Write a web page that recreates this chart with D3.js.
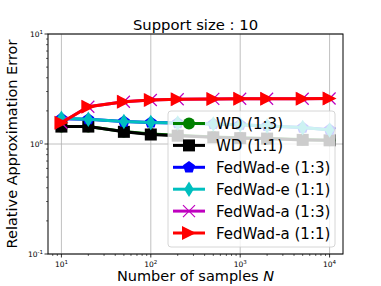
<!DOCTYPE html>
<html>
<head>
<meta charset="utf-8">
<script src="https://cdn.jsdelivr.net/npm/d3@7"></script>
<style>
  body { margin: 0; background: #fff; }
  text { font-family: "DejaVu Sans", sans-serif; }
</style>
</head>
<body>
<div id="chart"></div>
<script>
// values
const samples = [10, 20, 50, 100, 200, 500, 1000, 2000, 5000, 10000]
const wd13 = [1.44, 1.44, 1.30, 1.23, 1.20, 1.16, 1.14, 1.12, 1.10, 1.08]
const wd11 = [1.44, 1.44, 1.29, 1.22, 1.19, 1.15, 1.13, 1.12, 1.09, 1.08]
const fedE13 = [1.70, 1.68, 1.60, 1.57, 1.55, 1.52, 1.50, 1.46, 1.41, 1.35]
const fedE11 = [1.71, 1.68, 1.60, 1.57, 1.55, 1.52, 1.50, 1.46, 1.41, 1.34]
const fedA13 = [1.56, 2.18, 2.42, 2.51, 2.55, 2.57, 2.58, 2.58, 2.58, 2.59]
const fedA11 = [1.56, 2.18, 2.42, 2.51, 2.55, 2.57, 2.58, 2.58, 2.58, 2.59]
const seriesNames = ['WD (1:3)', 'WD (1:1)', 'FedWad-e (1:3)', 'FedWad-e (1:1)', 'FedWad-a (1:3)', 'FedWad-a (1:1)']
const xTicks = [10, 100, 1000, 10000]
const yTicks = [0.1, 1, 10]

const series = [
  { name: seriesNames[0], values: wd13, color: '#008000', marker: 'circle' },
  { name: seriesNames[1], values: wd11, color: '#000000', marker: 'square' },
  { name: seriesNames[2], values: fedE13, color: '#0000ff', marker: 'pentagon' },
  { name: seriesNames[3], values: fedE11, color: '#00bfbf', marker: 'diamond' },
  { name: seriesNames[4], values: fedA13, color: '#bf00bf', marker: 'x' },
  { name: seriesNames[5], values: fedA11, color: '#ff0000', marker: 'triangle' }
]

const width = 381, height = 286
const margin = { top: 34, right: 38, bottom: 32, left: 48 }
const x = d3.scaleLog().domain([Math.pow(10, 0.85), Math.pow(10, 4.15)]).range([margin.left, width - margin.right])
const y = d3.scaleLog().domain([0.1, 10]).range([height - margin.bottom, margin.top])

const svg = d3.select('#chart').append('svg').attr('width', width).attr('height', height)

// grid
const grid = svg.append('g')
grid.selectAll('.gx').data(xTicks).enter().append('line')
  .attr('x1', d => x(d)).attr('x2', d => x(d))
  .attr('y1', y.range()[0]).attr('y2', y.range()[1])
  .attr('stroke', '#b0b0b0').attr('stroke-width', 0.8)
grid.selectAll('.gy').data(yTicks).enter().append('line')
  .attr('y1', d => y(d)).attr('y2', d => y(d))
  .attr('x1', x.range()[0]).attr('x2', x.range()[1])
  .attr('stroke', '#b0b0b0').attr('stroke-width', 0.8)

function markerPath(type, s) {
  const h = s / 2
  if (type === 'square') return `M${-h},${-h}H${h}V${h}H${-h}Z`
  if (type === 'diamond') return `M0,${-h * 1.3}L${h * 0.8},0L0,${h * 1.3}L${-h * 0.8},0Z`
  if (type === 'triangle') return `M${-h},${-h}L${h},0L${-h},${h}Z`
  if (type === 'x') return `M${-h},${-h}L${h},${h}M${-h},${h}L${h},${-h}`
  if (type === 'pentagon') {
    const pts = d3.range(5).map(i => {
      const a = -Math.PI / 2 + i * 2 * Math.PI / 5
      return [Math.cos(a) * h * 1.05, Math.sin(a) * h * 1.05]
    })
    return 'M' + pts.join('L') + 'Z'
  }
  return null
}

function drawMarker(g, type, color, cx, cy) {
  if (type === 'circle') {
    g.append('circle').attr('cx', cx).attr('cy', cy).attr('r', 6).attr('fill', color)
  } else if (type === 'x') {
    g.append('path').attr('d', markerPath(type, 12)).attr('transform', `translate(${cx},${cy})`)
      .attr('stroke', color).attr('stroke-width', 1.2).attr('fill', 'none')
  } else {
    const s = type === 'triangle' ? 14 : 12
    g.append('path').attr('d', markerPath(type, s)).attr('transform', `translate(${cx},${cy})`)
      .attr('fill', color)
  }
}

const line = d3.line().x((d, i) => x(samples[i])).y(d => y(d))
const plot = svg.append('g')
for (const s of series) {
  const g = plot.append('g')
  g.append('path').datum(s.values).attr('d', line)
    .attr('fill', 'none').attr('stroke', s.color).attr('stroke-width', 3)
  s.values.forEach((v, i) => drawMarker(g, s.marker, s.color, x(samples[i]), y(v)))
}

// axes frame
svg.append('rect')
  .attr('x', margin.left).attr('y', margin.top)
  .attr('width', width - margin.left - margin.right)
  .attr('height', height - margin.top - margin.bottom)
  .attr('fill', 'none').attr('stroke', '#000').attr('stroke-width', 1)

// ticks
const minorX = []
for (let k = 0; k <= 4; k++) for (let m = 2; m <= 9; m++) {
  const v = m * Math.pow(10, k)
  if (v > x.domain()[0] && v < x.domain()[1]) minorX.push(v)
}
const minorY = []
for (let k = -1; k <= 0; k++) for (let m = 2; m <= 9; m++) minorY.push(m * Math.pow(10, k))

const yb = y.range()[0]
svg.selectAll('.mx').data(minorX).enter().append('line')
  .attr('x1', d => x(d)).attr('x2', d => x(d)).attr('y1', yb).attr('y2', yb + 2)
  .attr('stroke', '#000').attr('stroke-width', 0.6)
svg.selectAll('.Mx').data(xTicks).enter().append('line')
  .attr('x1', d => x(d)).attr('x2', d => x(d)).attr('y1', yb).attr('y2', yb + 3.5)
  .attr('stroke', '#000').attr('stroke-width', 0.8)
svg.selectAll('.my').data(minorY).enter().append('line')
  .attr('y1', d => y(d)).attr('y2', d => y(d)).attr('x1', margin.left - 2).attr('x2', margin.left)
  .attr('stroke', '#000').attr('stroke-width', 0.6)
svg.selectAll('.My').data(yTicks).enter().append('line')
  .attr('y1', d => y(d)).attr('y2', d => y(d)).attr('x1', margin.left - 3.5).attr('x2', margin.left)
  .attr('stroke', '#000').attr('stroke-width', 0.8)

function powLabel(sel, v) {
  const e = Math.round(Math.log10(v))
  sel.append('tspan').text('10')
  sel.append('tspan').attr('dy', -3.5).attr('font-size', 5.5).text(e)
}
svg.selectAll('.xl').data(xTicks).enter().append('text')
  .attr('x', d => x(d)).attr('y', yb + 13)
  .attr('text-anchor', 'middle').attr('font-size', 7.5)
  .each(function (d) { powLabel(d3.select(this), d) })
svg.selectAll('.yl').data(yTicks).enter().append('text')
  .attr('x', margin.left - 5).attr('y', d => y(d) + 3)
  .attr('text-anchor', 'end').attr('font-size', 7.5)
  .each(function (d) { powLabel(d3.select(this), d) })

// title and axis labels
svg.append('text').attr('x', (margin.left + width - margin.right) / 2).attr('y', 29.5)
  .attr('text-anchor', 'middle').attr('font-size', 14.8).text('Support size : 10')
const xl = svg.append('text').attr('x', (margin.left + width - margin.right) / 2).attr('y', 281)
  .attr('text-anchor', 'middle').attr('font-size', 14.5)
xl.append('tspan').text('Number of samples ')
xl.append('tspan').attr('font-style', 'italic').text('N')
svg.append('text').attr('transform', `translate(17,${(margin.top + height - margin.bottom) / 2}) rotate(-90)`)
  .attr('text-anchor', 'middle').attr('font-size', 14.5).text('Relative Approximation Error')

// legend
const lg = svg.append('g')
lg.append('rect').attr('x', 168).attr('y', 111).attr('width', 167).attr('height', 136)
  .attr('rx', 3).attr('fill', '#fff').attr('fill-opacity', 0.8)
  .attr('stroke', '#ccc').attr('stroke-width', 0.8)
series.forEach((s, i) => {
  const cy = 123.5 + i * 21.9
  const g = lg.append('g')
  g.append('line').attr('x1', 173).attr('x2', 205).attr('y1', cy).attr('y2', cy)
    .attr('stroke', s.color).attr('stroke-width', 3)
  drawMarker(g, s.marker, s.color, 189, cy)
  g.append('text').attr('x', 216).attr('y', cy + 5.5).attr('font-size', 15).text(s.name)
})
</script>
</body>
</html>
